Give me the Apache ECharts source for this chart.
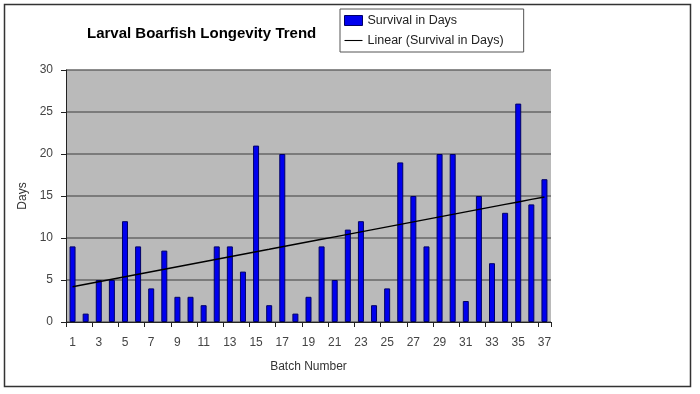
<!DOCTYPE html>
<html><head><meta charset="utf-8">
<script src="https://cdn.jsdelivr.net/npm/echarts@6/dist/echarts.min.js"></script>
<style>html,body{margin:0;padding:0;background:#fff}#c{width:700px;height:394px}</style>
</head><body><div id="c"></div>
<script>
var batches = ['1','2','3','4','5','6','7','8','9','10','11','12','13','14','15','16','17','18','19','20','21','22','23','24','25','26','27','28','29','30','31','32','33','34','35','36','37'];
var survivalDays = [9,1,5,5,12,9,4,8.5,3,3,2,9,9,6,21,2,20,1,3,9,5,11,12,2,4,19,15,9,20,20,2.5,15,7,13,26,14,17];

// least-squares linear trend (as Excel's "Linear" trendline)
var n = survivalDays.length, sx=0, sy=0, sxy=0, sxx=0;
for (var i=0;i<n;i++){var x=i+1;sx+=x;sy+=survivalDays[i];sxy+=x*survivalDays[i];sxx+=x*x;}
var slope=(n*sxy-sx*sy)/(n*sxx-sx*sx), icpt=(sy-slope*sx)/n;
var trend = survivalDays.map(function(_,i){return +(icpt+slope*(i+1)).toFixed(3);});

var font = 'Liberation Sans, Arial, sans-serif';
var chart = echarts.init(document.getElementById('c'));
chart.setOption({
  animation:false,
  backgroundColor:'#fff',
  graphic:[{type:'rect',shape:{x:4.5,y:4.5,width:686,height:382},style:{fill:'none',stroke:'#333',lineWidth:1.5},z:-1}],
  title:{text:'Larval Boarfish Longevity Trend',left:82,top:21,textStyle:{fontFamily:font,fontSize:15,fontWeight:'bold',color:'#000'}},
  legend:{left:340,top:9,orient:'vertical',itemGap:7,padding:[5,20,5,4],
    backgroundColor:'#fff',borderColor:'#555',borderWidth:1,borderRadius:0,
    textStyle:{fontFamily:font,fontSize:12.5,color:'#222'},itemWidth:18,itemHeight:10,
    data:[{name:'Survival in Days',icon:'rect',itemStyle:{color:'#0000ee',borderColor:'#000066',borderWidth:1}},
          {name:'Linear (Survival in Days)',icon:'path://M0,4.4H20V5.6H0Z',itemStyle:{color:'#000',borderWidth:0}}]},
  grid:{left:66,right:149,top:70,bottom:72},
  xAxis:{type:'category',data:batches,boundaryGap:true,
    name:'Batch Number',nameLocation:'middle',nameGap:39,nameTextStyle:{fontFamily:font,fontSize:12,color:'#333'},
    axisLine:{lineStyle:{color:'#222'}},
    axisTick:{show:true,alignWithLabel:false,length:5,lineStyle:{color:'#222'}},
    axisLabel:{interval:1,fontFamily:font,fontSize:12,color:'#444',margin:15},
    splitLine:{show:false}},
  yAxis:{type:'value',min:0,max:30,interval:5,
    name:'Days',nameLocation:'middle',nameGap:34,nameRotate:90,nameTextStyle:{fontFamily:font,fontSize:12,color:'#333'},
    axisLine:{show:true,lineStyle:{color:'#222'}},
    axisTick:{show:true,length:5,lineStyle:{color:'#222'}},
    axisLabel:{fontFamily:font,fontSize:12,color:'#444',margin:13},
    splitLine:{show:true,lineStyle:{color:'#666',width:1.5}},
    splitArea:{show:true,areaStyle:{color:['#bababa','#bababa']}}},
  series:[
    {name:'Survival in Days',type:'bar',data:survivalDays,barWidth:6,
      itemStyle:{color:'#0000ee',borderColor:'#000066',borderWidth:1}},
    {name:'Linear (Survival in Days)',type:'line',data:trend,symbol:'none',
      lineStyle:{color:'#000',width:1.5},itemStyle:{color:'#000'}}
  ]
});
</script></body></html>
